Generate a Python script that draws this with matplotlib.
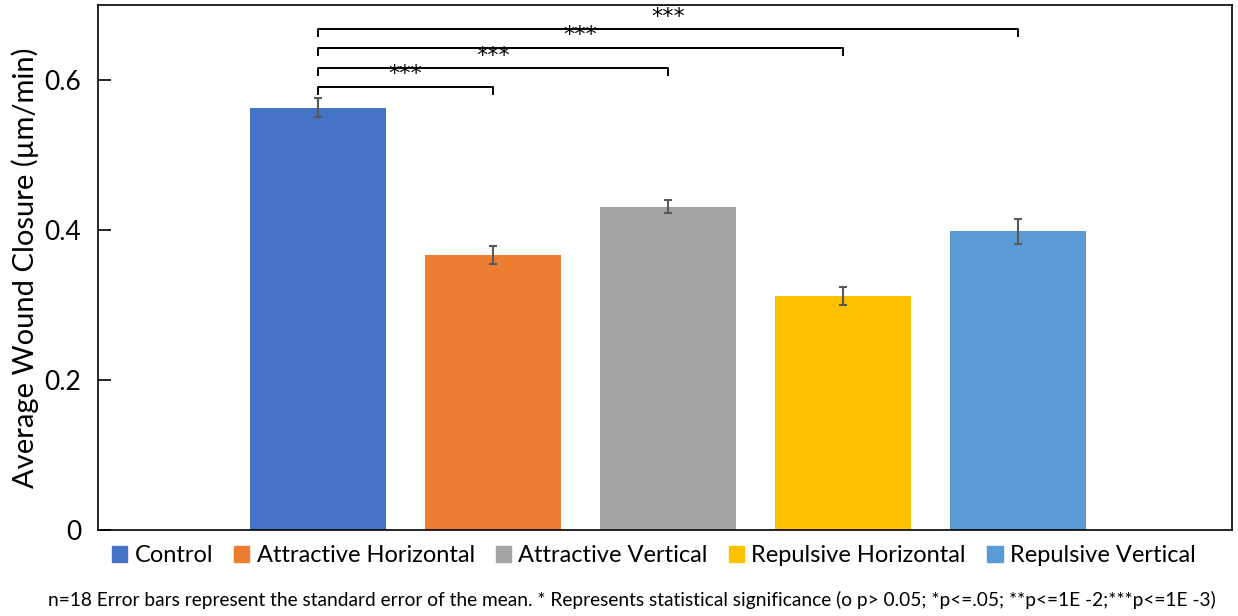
import numpy as np
import matplotlib
matplotlib.use("Agg")
import matplotlib.pyplot as plt
from matplotlib.patches import Patch

plt.rcParams["font.family"] = ["Lato", "DejaVu Sans"]

categories = ["Control", "Attractive Horizontal", "Attractive Vertical",
              "Repulsive Horizontal", "Repulsive Vertical"]
means = [0.563, 0.367, 0.431, 0.312, 0.398]
sems = [0.013, 0.012, 0.009, 0.012, 0.017]
colors = ["#4472C4", "#ED7D31", "#A5A5A5", "#FFC000", "#5B9BD5"]

# significance brackets: (from, to, bracket height, label)
brackets = [(0, 1, 0.591, "***"), (0, 2, 0.616, "***"),
            (0, 3, 0.643, "***"), (0, 4, 0.668, "***")]

yticks = [0, 0.2, 0.4, 0.6]
ytick_labels = ["0", "0.2", "0.4", "0.6"]
footnote = ("n=18 Error bars represent the standard error of the mean. * Represents statistical "
            "significance (o p> 0.05; *p<=.05; **p<=1E -2;***p<=1E -3)")

fig = plt.figure(figsize=(12.38, 6.16), dpi=100)
ax = fig.add_axes([0.0792, 0.1396, 0.9158, 0.8524])

x = np.arange(len(categories))
ax.bar(x, means, width=0.78, color=colors, zorder=2)
ax.errorbar(x, means, yerr=sems, fmt="none", ecolor="#595959", elinewidth=1.5,
            capsize=3, capthick=1.5, zorder=3)

tick = 0.0093
for a, b, h, lab in brackets:
    ax.plot([a, a, b, b], [h - tick, h, h, h - tick], color="black", lw=1.4,
            solid_joinstyle="round", zorder=4)
    ax.text((a + b) / 2, h + 0.003, lab, ha="center", va="bottom", fontsize=16,
            family="DejaVu Sans")

ax.set_xlim(-1.257, 5.223)
ax.set_ylim(0, 0.7)
ax.set_xticks([])
ax.set_yticks(yticks)
ax.set_yticklabels(ytick_labels, fontsize=19)
ax.tick_params(axis="y", direction="in", length=9, width=1.2, pad=12)
for s in ax.spines.values():
    s.set_linewidth(1.2)
    s.set_color("black")
ax.set_ylabel("Average Wound Closure (\u00b5m/min)", fontsize=21, labelpad=4)

handles = [Patch(color=c) for c in colors]
fig.legend(handles, categories, loc="center", bbox_to_anchor=(0.528, 0.098), ncol=5,
           frameon=False, fontsize=17, handlelength=0.65, handleheight=0.65,
           handletextpad=0.3, columnspacing=0.9)

fig.text(0.51, 0.026, footnote, ha="center", va="center", fontsize=13.8)

fig.savefig("out.png", dpi=100)
